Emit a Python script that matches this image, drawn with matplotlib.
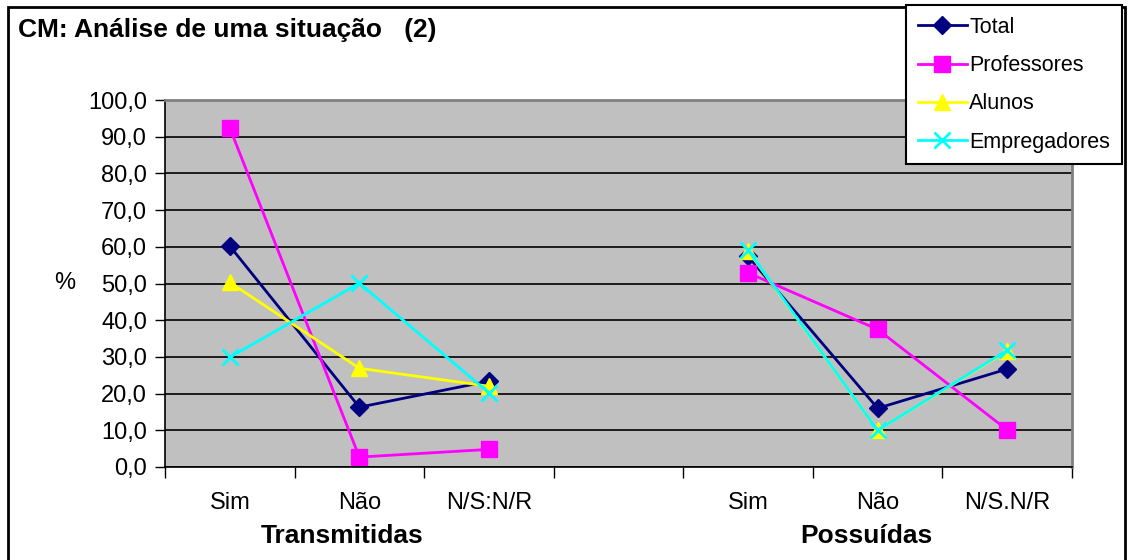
import numpy as np
import matplotlib.pyplot as plt
from matplotlib.patches import Rectangle

plt.rcParams['font.family'] = ['Liberation Sans', 'DejaVu Sans']

# categories (blank slot between the two groups)
cats = ['Sim', 'Não', 'N/S:N/R', '', 'Sim', 'Não', 'N/S.N/R']
groups = ['Transmitidas', 'Possuídas']

total = [60.2, 16.3, 23.4, np.nan, 57.4, 16.0, 26.7]
professores = [92.4, 2.7, 4.8, np.nan, 52.9, 37.5, 10.1]
alunos = [50.3, 26.9, 22.0, np.nan, 58.9, 10.0, 31.6]
empregadores = [29.9, 50.1, 20.2, np.nan, 59.1, 10.0, 31.8]

W, H = 1129, 560
fig = plt.figure(figsize=(W / 100, H / 100), dpi=100)

# outer chart border
fig.patches.append(Rectangle((8 / W, -0.01), 1117 / W, 1 - 7 / H + 0.01,
                             transform=fig.transFigure, fill=False,
                             edgecolor='black', linewidth=2))

ax = fig.add_axes([165 / W, 1 - 467 / H, 907 / W, 367 / H])
ax.set_facecolor('#C0C0C0')

x = np.arange(len(cats))
ax.plot(x, total, color='#000080', marker='D', ms=9, lw=2, label='Total')
ax.plot(x, professores, color='#FF00FF', marker='s', ms=12, lw=2, label='Professores')
ax.plot(x, alunos, color='#FFFF00', marker='^', ms=12, lw=2, label='Alunos')
ax.plot(x, empregadores, color='#00FFFF', marker='x', ms=12, mew=2, lw=2, label='Empregadores')

ax.set_xlim(-0.5, len(cats) - 0.5)
ax.set_ylim(0, 100)
yt = np.arange(0, 101, 10)
ax.set_yticks(yt)
ax.set_yticklabels([f'{v:.1f}'.replace('.', ',') for v in yt], fontsize=17)
ax.grid(axis='y', color='black', lw=1.2)
ax.set_axisbelow(True)

ax.set_xticks(np.arange(-0.5, len(cats), 1))
ax.set_xticklabels([])
ax.set_xticks(x, minor=True)
ax.set_xticklabels(cats, minor=True, fontsize=17)
ax.tick_params(axis='x', which='minor', length=0, pad=18)
ax.tick_params(axis='x', which='major', length=8, direction='out', width=1)
ax.tick_params(axis='y', length=7, direction='out', width=1, pad=6)

for s in ['top', 'right']:
    ax.spines[s].set_color('#808080')
    ax.spines[s].set_linewidth(2)
for s in ['left', 'bottom']:
    ax.spines[s].set_color('black')
    ax.spines[s].set_linewidth(1.2)

fig.text(342 / W, 1 - 536 / H, groups[0], ha='center', va='center',
         fontsize=19, fontweight='bold')
fig.text(866 / W, 1 - 536 / H, groups[1], ha='center', va='center',
         fontsize=19, fontweight='bold')
fig.text(65 / W, 1 - 283 / H, '%', ha='center', va='center', fontsize=17)
fig.text(18 / W, 1 - 30 / H, 'CM: Análise de uma situação   (2)',
         ha='left', va='center', fontsize=19, fontweight='bold')

leg = fig.legend(loc='upper right', bbox_to_anchor=(1122 / W, 1 - 5 / H),
                 fontsize=15.5, fancybox=False, edgecolor='black', framealpha=1,
                 handlelength=2.3, labelspacing=0.8, borderpad=0.55,
                 handletextpad=0.1, borderaxespad=0)
leg.get_frame().set_linewidth(1.5)

fig.savefig('out.png', dpi=100)
